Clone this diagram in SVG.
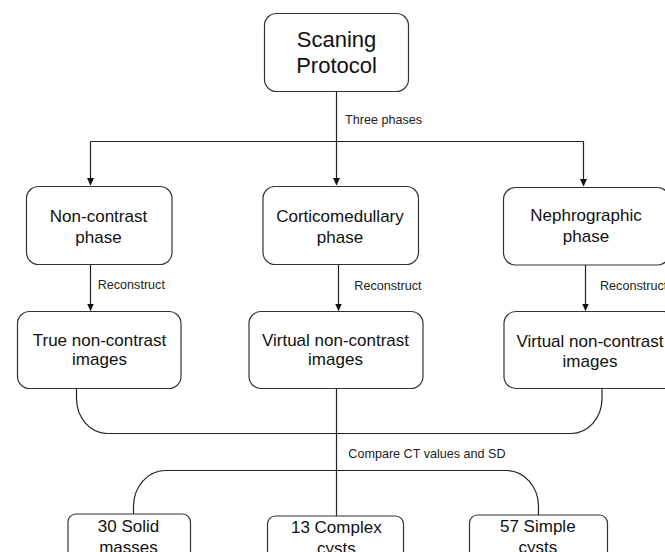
<svg xmlns="http://www.w3.org/2000/svg" width="665" height="552" viewBox="0 0 665 552">
<style>
.box{fill:#fff;stroke:#333;stroke-width:1.2}
.t{font-family:"Liberation Sans",Arial,sans-serif;font-size:17px;fill:#111;text-anchor:middle}
.big{font-size:22px}
.lbl{font-family:"Liberation Sans",Arial,sans-serif;font-size:12.6px;fill:#222}
.ln{fill:none;stroke:#222;stroke-width:1.2}
</style>
<defs>
<marker id="ah" markerWidth="8" markerHeight="8" refX="7" refY="4" orient="auto" markerUnits="userSpaceOnUse">
<path d="M0,0.5 L7.5,4 L0,7.5 Z" fill="#111"/>
</marker>
</defs>
<rect width="665" height="552" fill="#fff"/>
<g id="connectors">
<path class="ln" d="M336.5,91 V185" marker-end="url(#ah)"/>
<path class="ln" d="M90.5,141.5 H583.5"/>
<path class="ln" d="M90.5,141.5 V185" marker-end="url(#ah)"/>
<path class="ln" d="M583.5,141.5 V186" marker-end="url(#ah)"/>
<path class="ln" d="M90.5,264 V310.5" marker-end="url(#ah)"/>
<path class="ln" d="M338.5,264 V310.5" marker-end="url(#ah)"/>
<path class="ln" d="M585.5,265 V310.5" marker-end="url(#ah)"/>
<path class="ln" d="M76.5,388 V398 A31,35 0 0 0 107.5,433.5 H571 A31,35 0 0 0 602,398 V388"/>
<path class="ln" d="M336.5,388 V516"/>
<path class="ln" d="M165,470.5 H507 A32,36 0 0 1 538.5,506 V515"/>
<path class="ln" d="M165,470.5 A32,36 0 0 0 133.5,506 V514"/>
<text class="lbl" x="345" y="124">Three phases</text>
<text class="lbl" x="97.7" y="289">Reconstruct</text>
<text class="lbl" x="354.3" y="290">Reconstruct</text>
<text class="lbl" x="600" y="289.5">Reconstruct</text>
<text class="lbl" x="348.3" y="457.7">Compare CT values and SD</text>
</g>
<g id="scanning-protocol">
<rect class="box" x="264.5" y="13.5" width="144" height="78" rx="12"/>
<text class="t big" x="336.5" y="47">Scaning</text>
<text class="t big" x="336.5" y="73">Protocol</text>
</g>
<g id="non-contrast-phase">
<rect class="box" x="26.5" y="186.5" width="145.5" height="78" rx="12"/>
<text class="t" x="98.5" y="221.7">Non-contrast</text>
<text class="t" x="98.5" y="243">phase</text>
</g>
<g id="corticomedullary-phase">
<rect class="box" x="263" y="186.5" width="155.5" height="78" rx="12"/>
<text class="t" x="340" y="221.7">Corticomedullary</text>
<text class="t" x="340" y="242.7">phase</text>
</g>
<g id="nephrographic-phase">
<rect class="box" x="503.5" y="187.5" width="166" height="77.5" rx="12"/>
<text class="t" x="586" y="221">Nephrographic</text>
<text class="t" x="586" y="242">phase</text>
</g>
<g id="true-non-contrast">
<rect class="box" x="17.5" y="311.5" width="163.5" height="77" rx="12"/>
<text class="t" x="99.5" y="345.7">True non-contrast</text>
<text class="t" x="99.5" y="365">images</text>
</g>
<g id="virtual-non-contrast-1">
<rect class="box" x="249" y="311.5" width="174" height="77" rx="12"/>
<text class="t" x="335.5" y="345.7">Virtual non-contrast</text>
<text class="t" x="335.5" y="365">images</text>
</g>
<g id="virtual-non-contrast-2">
<rect class="box" x="504" y="311.5" width="172" height="77" rx="12"/>
<text class="t" x="590" y="346.5">Virtual non-contrast</text>
<text class="t" x="590" y="366.5">images</text>
</g>
<g id="solid-masses">
<rect class="box" x="68" y="514" width="122.5" height="60" rx="8"/>
<text class="t" x="128.5" y="531.7">30 Solid</text>
<text class="t" x="128.5" y="552.7">masses</text>
</g>
<g id="complex-cysts">
<rect class="box" x="267.5" y="516" width="136" height="60" rx="8"/>
<text class="t" x="336.3" y="533.3">13 Complex</text>
<text class="t" x="336.3" y="554.3">cysts</text>
</g>
<g id="simple-cysts">
<rect class="box" x="469.5" y="515" width="138" height="60" rx="8"/>
<text class="t" x="537.8" y="531.7">57 Simple</text>
<text class="t" x="537.8" y="552.7">cysts</text>
</g>
</svg>
